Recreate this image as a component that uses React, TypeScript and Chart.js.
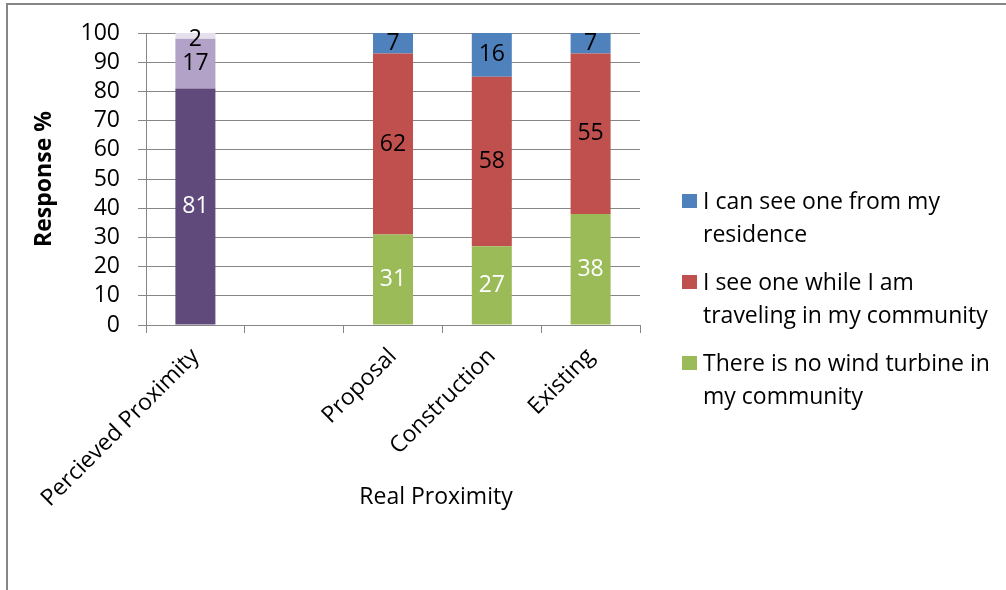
import React, { useEffect, useRef } from "react";
import { Chart, registerables } from "chart.js";

Chart.register(...registerables);

const categories = ["Percieved Proximity", "", "Proposal", "Construction", "Existing"];
const perceivedLow = [81, null, null, null, null];
const perceivedMid = [17, null, null, null, null];
const perceivedHigh = [2, null, null, null, null];
const noTurbine = [null, null, 31, 27, 38];
const whileTraveling = [null, null, 62, 58, 55];
const fromResidence = [null, null, 7, 16, 7];
const yTicks = [0, 10, 20, 30, 40, 50, 60, 70, 80, 90, 100];

const legendItems = [
  { color: "#4F81BD", lines: ["I can see one from my", "residence"] },
  { color: "#C0504D", lines: ["I see one while I am", "traveling in my community"] },
  { color: "#9BBB59", lines: ["There is no wind turbine in", "my community"] },
];

const FONT = "'Open Sans', 'Noto Sans', sans-serif";
const AXIS = "#868686";
const FS = 23;

const labelPlugin = {
  id: "segLabels",
  afterDatasetsDraw(chart: any) {
    const ctx = chart.ctx;
    const area = chart.chartArea;
    ctx.save();
    ctx.font = `${FS}px ${FONT}`;
    ctx.textAlign = "center";
    ctx.textBaseline = "middle";
    chart.data.datasets.forEach((ds: any, i: number) => {
      const meta = chart.getDatasetMeta(i);
      meta.data.forEach((el: any, j: number) => {
        const v = ds.data[j];
        if (v === null || v === undefined) return;
        const top = Math.max(el.y, area.top);
        const cy = Math.max((top + el.base) / 2, area.top + 6);
        ctx.fillStyle = ds.labelColor;
        ctx.fillText(String(v), el.x, cy);
      });
    });
    ctx.restore();
  },
};

export default function App() {
  const ref = useRef<HTMLCanvasElement>(null);
  useEffect(() => {
    document.body.style.margin = "0";
    const mk = (label: string, data: any[], color: string, labelColor: string) => ({
      label,
      data,
      backgroundColor: color,
      borderWidth: 0,
      labelColor,
      stack: "s",
      clip: 0,
    });
    const chart = new Chart(ref.current!, {
      type: "bar",
      data: {
        labels: categories,
        datasets: [
          mk("Perceived low", perceivedLow, "#604A7B", "#ffffff"),
          mk("Perceived mid", perceivedMid, "#B3A2C7", "#000000"),
          mk("Perceived high", perceivedHigh, "#E6E0EC", "#000000"),
          mk("There is no wind turbine in my community", noTurbine, "#9BBB59", "#ffffff"),
          mk("I see one while I am traveling in my community", whileTraveling, "#C0504D", "#000000"),
          mk("I can see one from my residence", fromResidence, "#4F81BD", "#000000"),
        ] as any,
      },
      options: {
        animation: false,
        responsive: false,
        devicePixelRatio: 1,
        layout: { padding: { top: 33, right: 366, bottom: 0, left: 0 } },
        datasets: { bar: { barPercentage: 0.405, categoryPercentage: 1 } },
        plugins: { legend: { display: false }, tooltip: { enabled: false } },
        scales: {
          x: {
            stacked: true,
            grid: { drawOnChartArea: false, color: AXIS, tickLength: 8, offset: true },
            border: { color: AXIS, width: 1 },
            ticks: {
              color: "#000",
              font: { family: FONT, size: FS },
              minRotation: 45,
              maxRotation: 45,
              autoSkip: false,
              padding: 10,
            },
            afterFit(scale: any) {
              scale.height = 265;
            },
          },
          y: {
            stacked: true,
            min: 0,
            max: 100,
            afterBuildTicks(scale: any) {
              scale.ticks = yTicks.map((v) => ({ value: v }));
            },
            grid: { color: AXIS, tickLength: 8 },
            border: { color: AXIS, width: 1 },
            ticks: { color: "#000", font: { family: FONT, size: FS }, padding: 18, autoSkip: false, stepSize: 10 },
            title: {
              display: true,
              text: "Response %",
              color: "#000",
              font: { family: FONT, size: FS, weight: "bold" },
              padding: { top: 31, bottom: 0 },
            },
            afterFit(scale: any) {
              scale.width = 146;
            },
          },
        },
      },
      plugins: [labelPlugin],
    } as any);
    return () => chart.destroy();
  }, []);

  return (
    <div style={{ position: "relative", width: 1006, height: 590, overflow: "hidden", background: "#fff", fontFamily: FONT }}>
      <div style={{ position: "absolute", left: 6, top: 3, width: 1100, height: 700, borderTop: `2px solid ${AXIS}`, borderLeft: `2px solid ${AXIS}` }} />
      <canvas ref={ref} width={1006} height={590} style={{ position: "absolute", left: 0, top: 0, width: 1006, height: 590 }} />
      <div style={{ position: "absolute", left: 336, width: 200, top: 479, textAlign: "center", fontSize: FS, lineHeight: "32px", color: "#000", whiteSpace: "nowrap" }}>
        Real Proximity
      </div>
      <div style={{ position: "absolute", left: 682, top: 184, color: "#000", fontSize: FS }}>
        {legendItems.map((it, i) => (
          <div key={i} style={{ position: "relative", paddingLeft: 21, marginBottom: 15, lineHeight: "33px", whiteSpace: "nowrap" }}>
            <span style={{ position: "absolute", left: 0, top: 10, width: 15, height: 14, background: it.color }} />
            {it.lines.map((l, k) => (
              <div key={k}>{l}</div>
            ))}
          </div>
        ))}
      </div>
    </div>
  );
}
